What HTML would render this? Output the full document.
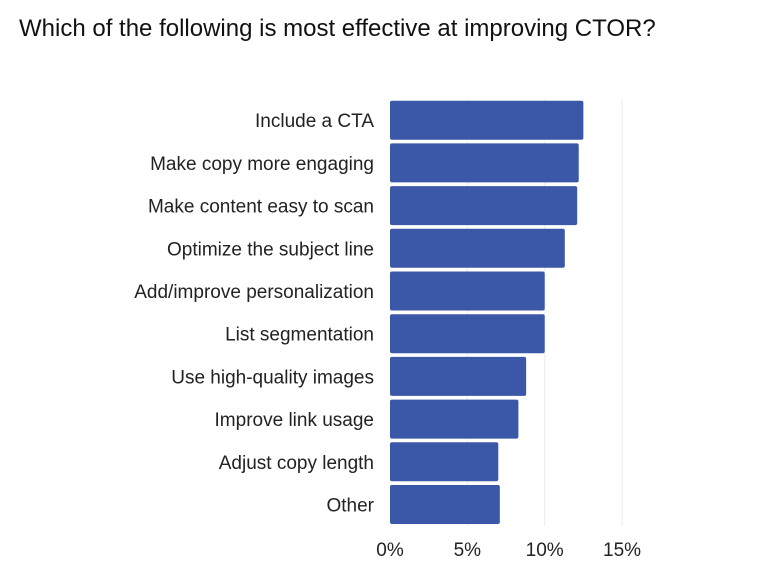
<!DOCTYPE html>
<html><head><meta charset="utf-8"><style>
body{margin:0;background:#fff;width:764px;height:575px;overflow:hidden;font-family:"Liberation Sans",sans-serif}
</style></head><body>
<svg width="764" height="575" xmlns="http://www.w3.org/2000/svg">
<text x="19" y="36" font-size="24" fill="#111">Which of the following is most effective at improving CTOR?</text>
<g id="grid"></g><g id="bars"></g><g id="labels"></g><g id="ticks"></g>
</svg>
<script>
const categories=["Include a CTA","Make copy more engaging","Make content easy to scan","Optimize the subject line","Add/improve personalization","List segmentation","Use high-quality images","Improve link usage","Adjust copy length","Other"];
const values=[12.5,12.2,12.1,11.3,10.0,10.0,8.8,8.3,7.0,7.1];
const tickValues=[0,5,10,15];
const tickLabels=["0%","5%","10%","15%"];
const NS="http://www.w3.org/2000/svg";
const x0=390,pxPer=15.47,top0=99,step=42.7,bh=39;
const xs=v=>x0+v*pxPer;
const ys=i=>top0+1.7+i*step;
function mk(t,a,p){const e=document.createElementNS(NS,t);for(const k in a)e.setAttribute(k,a[k]);document.getElementById(p).appendChild(e);return e;}
tickValues.forEach((v,i)=>{
 if(v>0){const l=mk("line",{x1:xs(v),x2:xs(v),y1:top0,y2:526,stroke:"#ebebeb","stroke-width":1},"grid");
 
 }
 const t=mk("text",{x:xs(v),y:556,"font-size":19,fill:"#222","text-anchor":"middle"},"ticks");
 t.textContent=tickLabels[i];
 
 
});
categories.forEach((c,i)=>{
 const r=mk("rect",{x:x0,y:ys(i),width:xs(values[i])-x0,height:bh,rx:2,fill:"#3b57a8"},"bars");
 
 
 const t=mk("text",{x:374,y:ys(i)+bh/2+7,"font-size":19,fill:"#222","text-anchor":"end"},"labels");
 t.textContent=c;
 
 
});
</script>
</body></html>
